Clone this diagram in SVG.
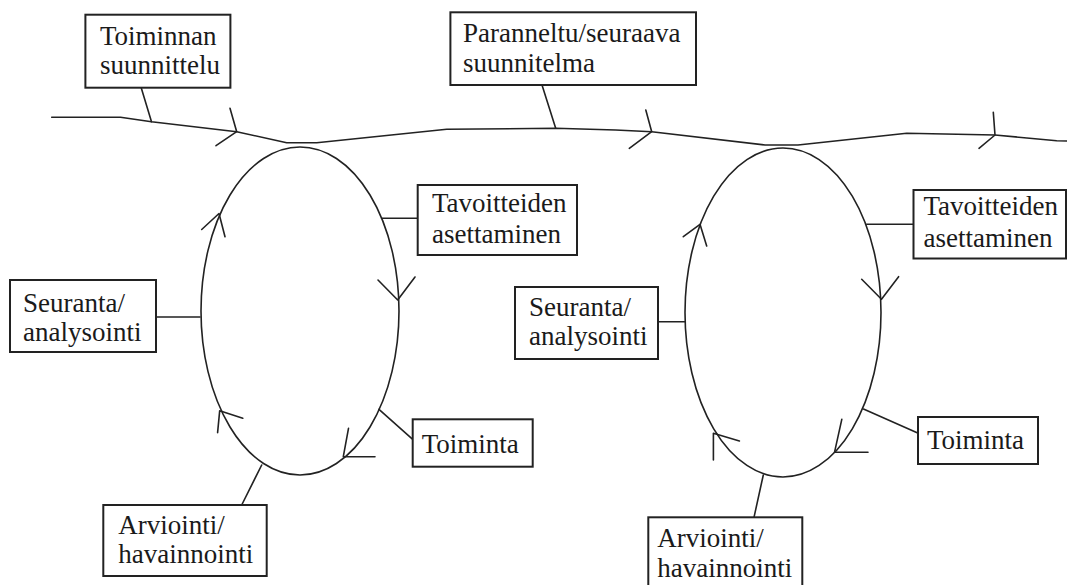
<svg xmlns="http://www.w3.org/2000/svg" width="1067" height="585" viewBox="0 0 1067 585">
<style>
.box{fill:#fff;stroke:#222;stroke-width:2}
.ln{fill:none;stroke:#222;stroke-width:1.6;stroke-linejoin:round;stroke-linecap:round}
text{font-family:"Liberation Serif","Times New Roman",serif;font-size:27px;fill:#1a1a1a}
</style>
<rect width="1067" height="585" fill="#fff"/>
<g id="connectors" class="ln">
<path d="M51.7,117.3 L120.5,117.3 L151.5,121.7 L236.7,131.7 L286.7,142.7 L316.7,142.7 L446.7,129.3 L555.7,128.3 L615.6,130 L651.7,131.7 L765,145 L798,145 L906.7,133.3 L995,135 L1056.7,140.7 L1067,141"/>
<path d="M230,108.3 L236.7,131.7 L216,145.7"/>
<path d="M645.8,110 L651.7,131.7 L629.3,148.3"/>
<path d="M993.3,112.3 L995,135 L979,148.3"/>
<ellipse cx="300" cy="311" rx="99" ry="164"/>
<ellipse cx="783" cy="312.5" rx="98" ry="164.5"/>
<path d="M201.7,229.5 L219,213.5 L225,236.7"/>
<path d="M378,280 L397.7,300 L415,277"/>
<path d="M348.5,428.3 L343.3,456.7 L375,456.7"/>
<path d="M242.8,418.3 L219.7,410.7 L217.6,432.7"/>
<path d="M683.3,236.7 L700,224.3 L706.7,246"/>
<path d="M861.7,279.3 L881.5,299.3 L898.6,276.7"/>
<path d="M841.8,419.3 L834.5,452.3 L868,452.3"/>
<path d="M739.4,441 L713.4,433.3 L713.4,460"/>
<path d="M141.2,87.7 L151.5,121.7"/>
<path d="M542,85 L555.7,128.3"/>
<path d="M381.7,218.3 L417.7,218.3"/>
<path d="M156,317 L200,317"/>
<path d="M379,409.3 L412.7,439.3"/>
<path d="M261.7,465 L241.7,505"/>
<path d="M866.7,224.3 L914,224.3"/>
<path d="M658,321.7 L685,321.7"/>
<path d="M863.5,409 L917.7,433"/>
<path d="M763.3,475 L754,517.3"/>
</g>
<g id="n-toiminnan">
<rect class="box" x="85.4" y="14.7" width="145" height="73"/>
<text x="100" y="45">Toiminnan</text>
<text x="100" y="74">suunnittelu</text>
</g>
<g id="n-parannettu">
<rect class="box" x="450.4" y="12.3" width="245.6" height="72.7"/>
<text x="463" y="42">Paranneltu/seuraava</text>
<text x="463" y="72">suunnitelma</text>
</g>
<g id="n-tavoitteiden1">
<rect class="box" x="417.7" y="185" width="159.3" height="70"/>
<text x="432" y="212">Tavoitteiden</text>
<text x="432" y="243">asettaminen</text>
</g>
<g id="n-seuranta1">
<rect class="box" x="10" y="280" width="146" height="72"/>
<text x="23" y="311.7">Seuranta/</text>
<text x="23" y="341">analysointi</text>
</g>
<g id="n-toiminta1">
<rect class="box" x="412.7" y="419.3" width="120" height="47.4"/>
<text x="421.7" y="452.7">Toiminta</text>
</g>
<g id="n-arviointi1">
<rect class="box" x="103.3" y="505" width="163.4" height="71"/>
<text x="118.3" y="534.3">Arviointi/</text>
<text x="118.3" y="563.3">havainnointi</text>
</g>
<g id="n-tavoitteiden2">
<rect class="box" x="913.5" y="190" width="152.5" height="68.5"/>
<text x="923.5" y="215">Tavoitteiden</text>
<text x="923.5" y="247">asettaminen</text>
</g>
<g id="n-seuranta2">
<rect class="box" x="515" y="287" width="143" height="72"/>
<text x="529" y="316">Seuranta/</text>
<text x="529" y="345">analysointi</text>
</g>
<g id="n-toiminta2">
<rect class="box" x="918" y="417" width="120" height="47"/>
<text x="927" y="449">Toiminta</text>
</g>
<g id="n-arviointi2">
<rect class="box" x="648.3" y="517.3" width="154" height="75"/>
<text x="657.3" y="547.3">Arviointi/</text>
<text x="657.3" y="576.7">havainnointi</text>
</g>
</svg>
